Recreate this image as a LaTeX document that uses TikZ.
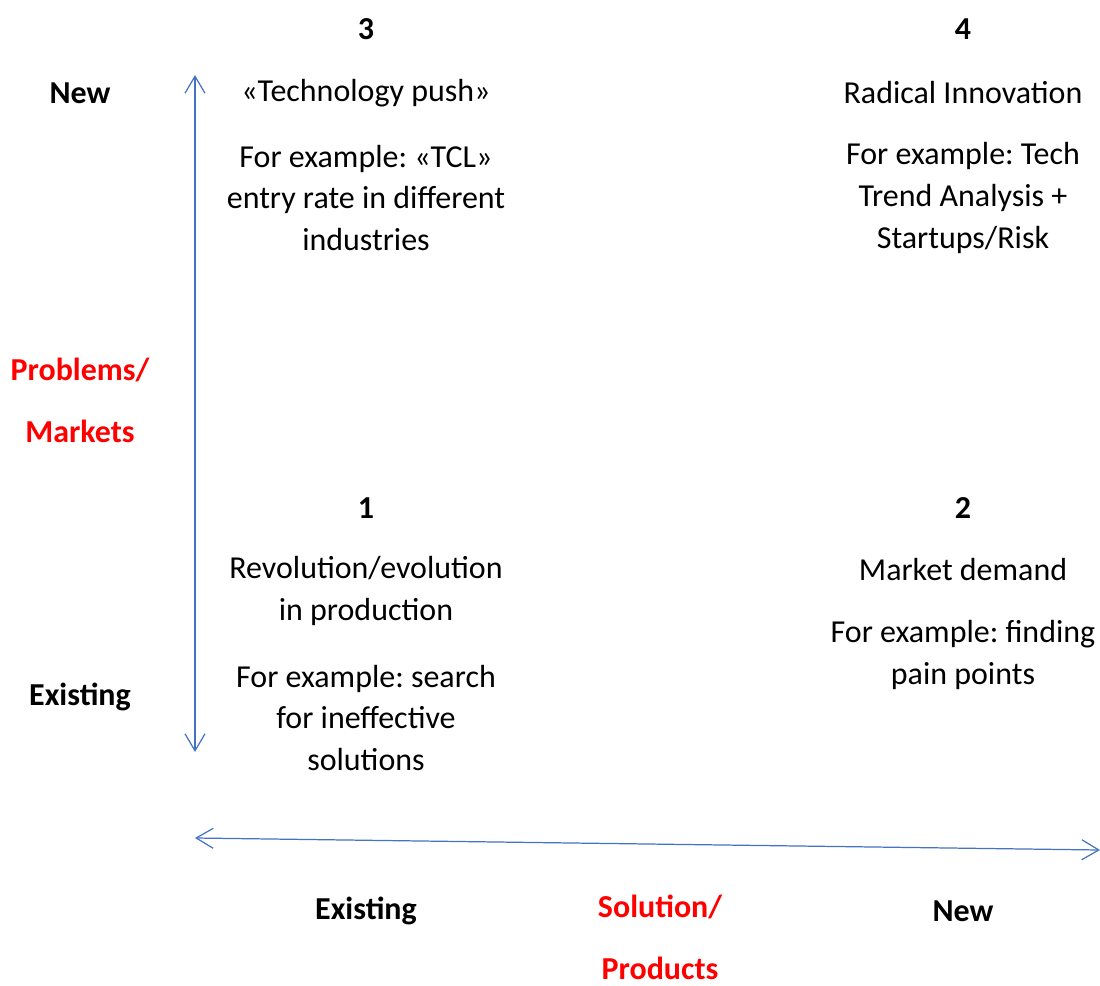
\documentclass[tikz,border=0pt]{standalone}
\usepackage{fontspec}
\setmainfont{Carlito}
\usetikzlibrary{arrows.meta}
\definecolor{axisblue}{RGB}{68,114,196}
\frenchspacing
\begin{document}
\begin{tikzpicture}[x=0.02cm, y=-0.02cm,
  txt/.style={align=center, inner sep=0pt, font=\fontsize{18.2}{23.9}\selectfont},
  head/.style={txt, font=\fontsize{18.2}{23.9}\selectfont\bfseries},
  axislabel/.style={txt, text=red, font=\fontsize{18.2}{35.3}\selectfont\bfseries},
  axis/.style={draw=axisblue, line width=0.7pt, {Straight Barb[length=0.34cm, width=0.4cm]}-{Straight Barb[length=0.34cm, width=0.4cm]}}]
\useasboundingbox (0,0) rectangle (1100,985);

\node (n3) at (366,29) [head] {3};
\node (n4) at (963,29) [head] {4};
\node (n1) at (366,508) [head] {1};
\node (n2) at (963,508) [head] {2};

\node (ynew) at (80,93) [head] {New};
\node (yold) at (80,697) [head] {Existing};
\node (ylab) at (80,400) [axislabel] {Problems/\\Markets};

\node (xold) at (366,911) [head] {Existing};
\node (xnew) at (963,911) [head] {New};
\node (xlab) at (660,937) [axislabel] {Solution/\\Products};

\node (push) at (366,93) [txt] {«Technology push»};
\node (pushex) at (366,198) [txt] {For example: «TCL»\\entry rate in different\\industries};
\node (radical) at (963,93) [txt] {Radical Innovation};
\node (radicalex) at (963,198) [txt] {For example: Tech\\Trend Analysis +\\Startups/Risk};
\node (revol) at (366,591) [txt] {Revolution/evolution\\in production};
\node (revolex) at (366,718) [txt] {For example: search\\for ineffective\\solutions};
\node (demand) at (963,570) [txt] {Market demand};
\node (demandex) at (963,655) [txt] {For example: finding\\pain points};

\coordinate (ytop) at (195,75);
\coordinate (ybot) at (195,752);
\coordinate (xleft) at (195,838);
\coordinate (xright) at (1100,850);
\draw[axis] (ytop) -- (ybot);
\draw[axis] (xleft) -- (xright);
\end{tikzpicture}
\end{document}
